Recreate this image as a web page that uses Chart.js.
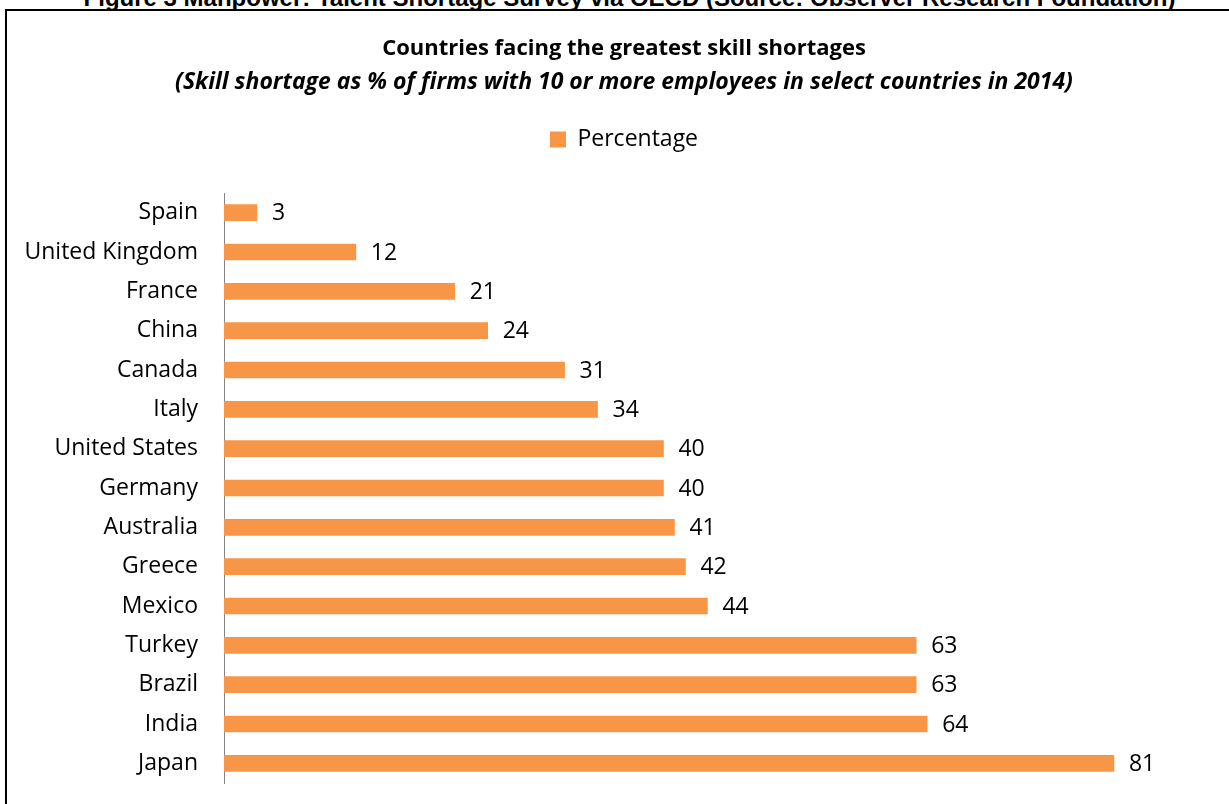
<!DOCTYPE html>
<html>
<head>
<meta charset="utf-8">
<script src="https://cdn.jsdelivr.net/npm/chart.js@4.4.1/dist/chart.umd.min.js"></script>
<style>
    html, body { margin: 0; padding: 0; background: #fff; overflow: hidden; }
    body { width: 1229px; height: 804px; position: relative; }
    .caption {
        position: absolute; left: 15px; width: 1229px; top: -14px;
        text-align: center; font: bold 24px "Liberation Sans", Arial, sans-serif;
        line-height: 24px; color: #000; white-space: nowrap;
    }
    .frame {
        position: absolute; left: 5px; top: 9px; width: 1240px; height: 820px;
        border: 2px solid #000; box-sizing: border-box;
    }
    #wrap { position: absolute; left: 0; top: 0; width: 1229px; height: 804px; }
</style>
</head>
<body>
<div class="caption">Figure 3 Manpower: Talent Shortage Survey via OECD (Source: Observer Research Foundation)</div>
<div class="frame"></div>
<div id="wrap"><canvas id="skillChart"></canvas></div>
<script>
// Dados
const countries = ['Spain', 'United Kingdom', 'France', 'China', 'Canada', 'Italy', 'United States',
    'Germany', 'Australia', 'Greece', 'Mexico', 'Turkey', 'Brazil', 'India', 'Japan'];
const percentages = [3, 12, 21, 24, 31, 34, 40, 40, 41, 42, 44, 63, 63, 64, 81];
const seriesName = 'Percentage';
const chartTitle = 'Countries facing the greatest skill shortages';
const chartSubtitle = '(Skill shortage as % of firms with 10 or more employees in select countries in 2014)';

const FONT = '"Open Sans", sans-serif';
const BAR_COLOR = '#F79646';
const LEGEND_GAP = 32; // espaço extra abaixo da legenda
const PAD_LEFT = 22;

// Rótulos de valor à direita das barras
const valueLabels = {
    id: 'valueLabels',
    afterDatasetsDraw(chart) {
        const ctx = chart.ctx;
        const meta = chart.getDatasetMeta(0);
        ctx.save();
        ctx.font = '23px ' + FONT;
        ctx.fillStyle = '#000';
        ctx.textAlign = 'left';
        ctx.textBaseline = 'middle';
        meta.data.forEach((bar, i) => {
            ctx.fillText(String(percentages[i]), bar.x + 15, bar.y + 1);
        });
        ctx.restore();
    }
};

// Aumentar a altura da legenda
const legendGap = {
    id: 'legendGap',
    beforeInit(chart) {
        const originalFit = chart.legend.fit;
        chart.legend.fit = function fit() {
            originalFit.bind(chart.legend)();
            this.height += LEGEND_GAP;
        };
    }
};

new Chart(document.getElementById('skillChart'), {
    type: 'bar',
    data: {
        labels: countries,
        datasets: [{
            label: seriesName,
            data: percentages,
            backgroundColor: BAR_COLOR,
            borderWidth: 0,
            barThickness: 16
        }]
    },
    plugins: [valueLabels, legendGap],
    options: {
        indexAxis: 'y',
        responsive: true,
        maintainAspectRatio: false,
        animation: false,
        layout: { padding: { top: 23, left: PAD_LEFT, right: 3, bottom: 21 } },
        plugins: {
            title: {
                display: true,
                text: chartTitle,
                color: '#000',
                font: { family: FONT, size: 22, weight: 'bold' },
                padding: { top: 13, bottom: 0 }
            },
            subtitle: {
                display: true,
                text: chartSubtitle,
                color: '#000',
                font: { family: FONT, size: 23, weight: 'bold', style: 'italic' },
                padding: { top: 6, bottom: 18 }
            },
            legend: {
                display: true,
                position: 'top',
                labels: {
                    color: '#000',
                    font: { family: FONT, size: 23 },
                    boxWidth: 16,
                    boxHeight: 16,
                    padding: 14
                }
            },
            tooltip: { enabled: false }
        },
        scales: {
            x: {
                display: false,
                min: 0,
                max: 91.2
            },
            y: {
                grid: { display: false, drawTicks: false },
                border: { display: true, color: '#868686', width: 1 },
                ticks: {
                    color: '#000',
                    font: { family: FONT, size: 23 },
                    padding: 26,
                    autoSkip: false
                },
                afterFit(scale) {
                    scale.width = 224 - PAD_LEFT;
                    scale.paddingTop = 0;
                    scale.paddingBottom = 0;
                }
            }
        }
    }
});
</script>
</body>
</html>
